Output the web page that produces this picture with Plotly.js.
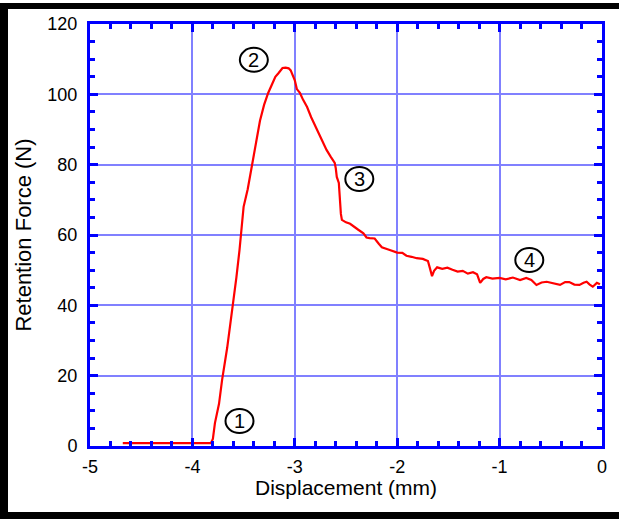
<!DOCTYPE html>
<html>
<head>
<meta charset="utf-8">
<script src="https://cdn.plot.ly/plotly-3.0.1.min.js"></script>
<style>
  html, body { margin: 0; padding: 0; background: #ffffff; }
  #wrap { position: relative; width: 619px; height: 519px; overflow: hidden; }
  #chart { position: absolute; left: 0; top: 0; width: 619px; height: 519px; }
  .bar { position: absolute; background: #000000; z-index: 10; }
</style>
</head>
<body>
<div id="wrap">
  <div id="chart"></div>
  <div class="bar" style="left:0;top:3px;width:619px;height:6px;"></div>
  <div class="bar" style="left:0;top:3px;width:8px;height:516px;"></div>
  <div class="bar" style="left:0;top:512px;width:619px;height:7px;"></div>
</div>
<script>
// Displacement (mm)
const displacement = [-4.68, -3.82, -3.80, -3.78, -3.74, -3.71, -3.66, -3.61, -3.57, -3.54,
  -3.50, -3.46, -3.42, -3.38, -3.34, -3.30, -3.26, -3.22, -3.19, -3.16,
  -3.14, -3.12, -3.09, -3.06, -3.04, -3.02, -3.00, -2.98, -2.95, -2.92,
  -2.88, -2.84, -2.78, -2.73, -2.69, -2.65, -2.61, -2.60, -2.59, -2.57,
  -2.56, -2.55, -2.54, -2.50, -2.46, -2.43, -2.38, -2.33, -2.30, -2.27,
  -2.22, -2.18, -2.15, -2.08, -2.00, -1.95, -1.91, -1.86, -1.81, -1.75,
  -1.70, -1.68, -1.66, -1.64, -1.61, -1.56, -1.51, -1.46, -1.41, -1.36,
  -1.31, -1.26, -1.22, -1.19, -1.16, -1.13, -1.07, -1.00, -0.94, -0.87,
  -0.80, -0.74, -0.69, -0.64, -0.59, -0.54, -0.48, -0.41, -0.36, -0.32,
  -0.27, -0.22, -0.18, -0.15, -0.12, -0.09, -0.05, -0.02];
// Retention force (N)
const force = [0.8, 0.8, 2.0, 6.5, 12.0, 18.8, 28.0, 38.7, 48.0, 55.7,
  68.0, 73.0, 79.3, 86.0, 92.5, 97.0, 100.4, 103.0, 105.0, 106.0,
  106.8, 107.5, 107.6, 107.4, 106.8, 105.5, 104.0, 101.5, 100.4, 98.5,
  96.4, 93.5, 89.8, 87.0, 84.2, 82.3, 80.5, 79.0, 76.5, 74.8,
  70.0, 66.0, 64.3, 63.6, 63.2, 62.5, 61.5, 60.5, 59.3, 59.1,
  59.0, 57.5, 56.5, 55.8, 55.0, 54.9, 54.1, 53.8, 53.4, 53.2,
  52.6, 50.5, 48.3, 49.8, 50.8, 50.4, 50.7, 50.1, 49.6, 49.8,
  49.0, 49.4, 48.8, 46.4, 47.5, 48.0, 47.6, 47.8, 47.4, 47.9,
  47.2, 47.8, 47.2, 45.8, 46.5, 46.7, 46.2, 45.8, 46.6, 46.6,
  45.9, 45.8, 46.4, 46.7, 45.9, 45.3, 46.4, 46.0];

// Stage markers (circled labels)
const stageLabels = ['1', '2', '3', '4'];
const stageX = [-3.54, -3.40, -2.37, -0.71];
const stageY = [7.1, 109.8, 75.9, 52.9];

const xTickVals = [-5, -4, -3, -2, -1, 0];
const xTickText = ['-5', '-4', '-3', '-2', '-1', '0'];
const yTickVals = [0, 20, 40, 60, 80, 100, 120];
const yTickText = ['0', '20', '40', '60', '80', '100', '120'];

const FONT = 'Arial, "Liberation Sans", sans-serif';

const trace = {
  x: displacement, y: force, type: 'scatter', mode: 'lines',
  line: { color: '#ff0000', width: 2.2 }, hoverinfo: 'skip'
};

const shapes = stageX.map((sx, i) => ({
  type: 'circle', xref: 'x', yref: 'y',
  xsizemode: 'pixel', ysizemode: 'pixel',
  xanchor: sx, yanchor: stageY[i],
  x0: -14, x1: 14, y0: -12, y1: 12,
  line: { color: '#000000', width: 2 }, fillcolor: 'rgba(0,0,0,0)'
}));

const annotations = stageLabels.map((t, i) => ({
  x: stageX[i], y: stageY[i], xref: 'x', yref: 'y', text: t,
  showarrow: false, font: { family: FONT, size: 20, color: '#000000' },
  xanchor: 'center', yanchor: 'middle'
}));
// x-axis title, placed just under the tick labels
annotations.push({
  x: 0.5, y: 0, xref: 'paper', yref: 'paper', yshift: -41,
  text: 'Displacement (mm)', showarrow: false,
  font: { family: FONT, size: 21, color: '#000000' },
  xanchor: 'center', yanchor: 'middle', borderpad: 0
});

const axisCommon = {
  showline: true, linecolor: '#0000ff', linewidth: 3, mirror: 'allticks',
  ticks: 'inside', ticklen: 8, tickwidth: 3, tickcolor: '#0000ff',
  showgrid: true, gridcolor: '#8080ff', gridwidth: 2,
  zeroline: false, tickfont: { family: FONT, size: 18, color: '#000000' },
  fixedrange: true
};

const layout = {
  width: 619, height: 519,
  margin: { l: 89.5, r: 16.5, t: 24, b: 73 },
  paper_bgcolor: '#ffffff', plot_bgcolor: '#ffffff',
  showlegend: false,
  xaxis: Object.assign({}, axisCommon, {
    range: [-5, 0], tickmode: 'array', tickvals: xTickVals, ticktext: xTickText,
    ticklabelstandoff: 2,
    minor: { ticks: 'inside', dtick: 0.2, ticklen: 5, tickwidth: 3, tickcolor: '#0000ff', showgrid: false }
  }),
  yaxis: Object.assign({}, axisCommon, {
    range: [0, 120], tickmode: 'array', tickvals: yTickVals, ticktext: yTickText,
    ticklabelstandoff: 6,
    minor: { ticks: 'inside', dtick: 5, ticklen: 5, tickwidth: 3, tickcolor: '#0000ff', showgrid: false },
    title: { text: 'Retention Force (N)', font: { family: FONT, size: 22, color: '#000000' }, standoff: 10 }
  }),
  shapes: shapes,
  annotations: annotations
};

Plotly.newPlot('chart', [trace], layout, { displayModeBar: false, staticPlot: true });
</script>
</body>
</html>
